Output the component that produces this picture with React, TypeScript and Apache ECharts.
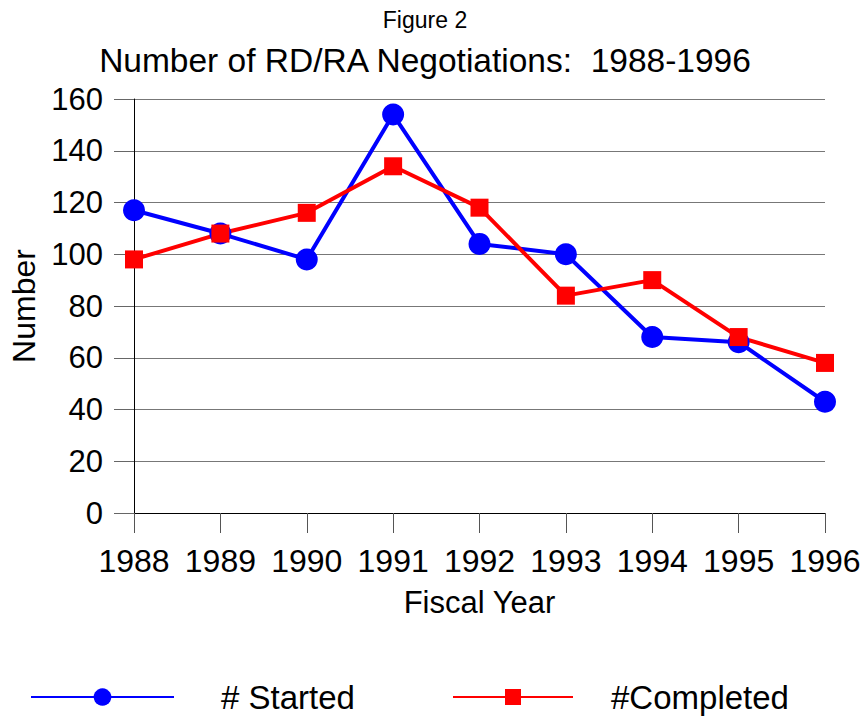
import React, { useEffect, useRef } from "react";
import * as echarts from "echarts";

const years = ["1988", "1989", "1990", "1991", "1992", "1993", "1994", "1995", "1996"];
const started = [117, 108, 98, 154, 104, 100, 68, 66, 43];
const completed = [98, 108, 116, 134, 118, 84, 90, 68, 58];
const yTicks = { min: 0, max: 160, interval: 20 };

const FONT = "'Liberation Sans', Arial, sans-serif";

export default function App() {
  const ref = useRef<HTMLDivElement>(null);
  useEffect(() => {
    document.body.style.margin = "0";
    const chart = echarts.init(ref.current!, null, { renderer: "svg" });
    chart.setOption({
      animation: false,
      backgroundColor: "#ffffff",
      textStyle: { fontFamily: FONT, color: "#000" },
      title: [
        {
          text: "Figure 2",
          left: 420,
          top: 3,
          textAlign: "center",
          textStyle: { fontSize: 23, fontWeight: "normal", color: "#000", fontFamily: FONT },
        },
        {
          text: "Number of RD/RA Negotiations:  1988-1996",
          left: 420,
          top: 38,
          textAlign: "center",
          textStyle: { fontSize: 33.5, fontWeight: "normal", color: "#000", fontFamily: FONT },
        },
      ],
      legend: [
        {
          data: ["# Started"],
          left: 30,
          top: 680,
          padding: 0,
          itemWidth: 143,
          itemHeight: 22,
          itemGap: 0,
          textStyle: { fontSize: 33, lineHeight: 34, color: "#000", fontFamily: FONT, padding: [0, 0, 0, 42] },
        },
        {
          data: ["#Completed"],
          left: 452,
          top: 680,
          padding: 0,
          itemWidth: 120,
          itemHeight: 20,
          itemGap: 0,
          textStyle: { fontSize: 33, lineHeight: 34, color: "#000", fontFamily: FONT, padding: [0, 0, 0, 33] },
        },
      ],
      grid: { left: 133, right: 40, top: 99, bottom: 204, containLabel: false },
      xAxis: {
        type: "category",
        data: years,
        boundaryGap: false,
        name: "Fiscal Year",
        nameLocation: "middle",
        nameGap: 74,
        nameTextStyle: { fontSize: 31, color: "#000", fontFamily: FONT },
        axisLine: { show: true, lineStyle: { color: "#000", width: 1 } },
        axisTick: { show: true, length: 20, interval: 0, lineStyle: { color: "#555", width: 1 } },
        axisLabel: { fontSize: 32, color: "#000", margin: 32, interval: 0, hideOverlap: false, fontFamily: FONT },
        splitLine: { show: false },
      },
      yAxis: {
        type: "value",
        min: yTicks.min,
        max: yTicks.max,
        interval: yTicks.interval,
        name: "Number",
        nameLocation: "middle",
        nameGap: 94,
        nameRotate: 90,
        nameTextStyle: { fontSize: 32, color: "#000", fontFamily: FONT },
        axisLine: { show: true, lineStyle: { color: "#000", width: 1 } },
        axisTick: { show: true, length: 20, lineStyle: { color: "#666", width: 1 } },
        axisLabel: { fontSize: 31, color: "#000", margin: 31, fontFamily: FONT },
        splitLine: { show: true, lineStyle: { color: "#777", width: 1 } },
      },
      series: [
        {
          name: "# Started",
          type: "line",
          data: started,
          symbol: "circle",
          symbolSize: 22,
          color: "#0000ff",
          lineStyle: { color: "#0000ff", width: 4 },
          itemStyle: { color: "#0000ff" },
        },
        {
          name: "#Completed",
          type: "line",
          data: completed,
          symbol: "rect",
          symbolSize: 18,
          color: "#ff0000",
          lineStyle: { color: "#ff0000", width: 4 },
          itemStyle: { color: "#ff0000" },
        },
      ],
    });
    return () => chart.dispose();
  }, []);
  return <div ref={ref} style={{ width: 865, height: 717 }} />;
}
